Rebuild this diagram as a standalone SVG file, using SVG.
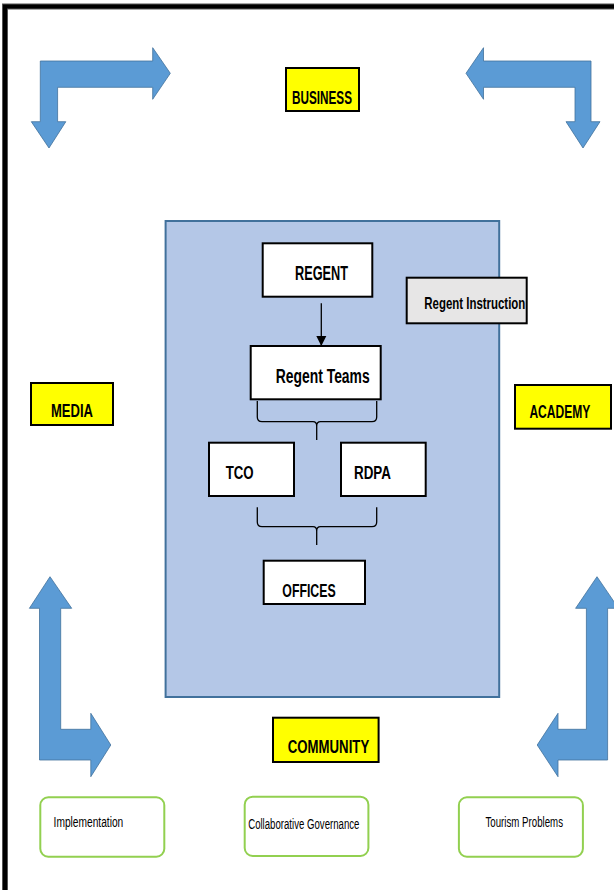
<svg xmlns="http://www.w3.org/2000/svg" width="614" height="890" viewBox="0 0 614 890">
<defs>
<style>
.t{font-family:"Liberation Sans",Arial,sans-serif;font-weight:bold;fill:#000}
.s{font-family:"Liberation Sans",Arial,sans-serif;fill:#000}
.box{fill:#fff;stroke:#000;stroke-width:2}
.yel{fill:#ffff00;stroke:#000;stroke-width:2}
.grn{fill:#fff;stroke:#92d050;stroke-width:2}
.arr{fill:#5b9bd5;stroke:#41719c;stroke-width:0.8}
.br{fill:none;stroke:#000;stroke-width:1.3}
</style>
<marker id="ah" viewBox="0 0 10 10" refX="10" refY="5" markerWidth="10" markerHeight="12" markerUnits="userSpaceOnUse" orient="auto">
<path d="M0,0 L10,5 L0,10 z" fill="#000"/>
</marker>
</defs>
<rect width="614" height="890" fill="#fff"/>
<g id="frame">
<path d="M5,890 V6.5 H614" fill="none" stroke="#555" stroke-width="6"/>
<path d="M5,890 V6.5 H614" fill="none" stroke="#000" stroke-width="4"/>
</g>
<g id="arrows">
<polygon class="arr" points="49,148 65.8,121.7 57.6,121.7 57.6,87.3 152.7,87.3 152.7,99.3 170.3,73.3 152.7,47.7 152.7,61 40.3,61 40.3,121.7 31.3,121.7"/>
<polygon class="arr" points="583,148 600,121.7 591,121.7 591,61 483.5,61 483.5,47.7 466,73.3 483.5,99.3 483.5,87.3 575,87.3 575,121.7 566,121.7"/>
<polygon class="arr" points="50,576.7 71.7,608.3 60.7,608.3 60.7,729.3 90.8,729.3 90.8,713.3 110.8,745 90.8,776.7 90.8,760 39.5,760 39.5,608.3 29.4,608.3"/>
<polygon class="arr" points="597,576.7 618.5,608.3 607.6,608.3 607.6,760 558,760 558,776.7 537.2,745 558,713.3 558,729.3 586.4,729.3 586.4,608.3 575.6,608.3"/>
</g>
<g id="business"><rect class="yel" x="286" y="68" width="73" height="43"/><text class="t" x="292" y="104" font-size="19" textLength="60" lengthAdjust="spacingAndGlyphs">BUSINESS</text></g>
<g id="media"><rect class="yel" x="31" y="383" width="82" height="42"/><text class="t" x="51" y="416.7" font-size="17.5" textLength="42" lengthAdjust="spacingAndGlyphs">MEDIA</text></g>
<g id="academy"><rect class="yel" x="515" y="385" width="96" height="43.7"/><text class="t" x="529.4" y="418.3" font-size="17.5" textLength="61" lengthAdjust="spacingAndGlyphs">ACADEMY</text></g>
<g id="government"><rect x="165.6" y="221" width="333.6" height="476" fill="#b4c7e7" stroke="#41719c" stroke-width="2"/></g>
<g id="regent"><rect class="box" x="262.7" y="243.3" width="109.6" height="53.4"/><text class="t" x="295" y="280" font-size="19.5" textLength="53" lengthAdjust="spacingAndGlyphs">REGENT</text></g>
<g id="regent-instruction"><rect x="406.7" y="277.7" width="120" height="45.6" fill="#e7e6e6" stroke="#000" stroke-width="2"/><text class="t" x="424.3" y="309" font-size="16.5" textLength="101" lengthAdjust="spacingAndGlyphs">Regent Instruction</text></g>
<g id="regent-teams"><rect class="box" x="250.7" y="346" width="130" height="53.3"/><text class="t" x="275.7" y="382.7" font-size="19.5" textLength="94" lengthAdjust="spacingAndGlyphs">Regent Teams</text></g>
<g id="tco"><rect class="box" x="209" y="442.7" width="85" height="53.3"/><text class="t" x="225.7" y="479" font-size="18.5" textLength="28" lengthAdjust="spacingAndGlyphs">TCO</text></g>
<g id="rdpa"><rect class="box" x="341" y="442.7" width="84.7" height="53.3"/><text class="t" x="354" y="479" font-size="18.5" textLength="37" lengthAdjust="spacingAndGlyphs">RDPA</text></g>
<g id="offices"><rect class="box" x="263.7" y="560.7" width="101.3" height="43.3"/><text class="t" x="282.3" y="596.7" font-size="18.5" textLength="53.4" lengthAdjust="spacingAndGlyphs">OFFICES</text></g>
<g id="community"><rect class="yel" x="273" y="717.7" width="105.6" height="44.3"/><text class="t" x="287.8" y="753.3" font-size="18.5" textLength="81.4" lengthAdjust="spacingAndGlyphs">COMMUNITY</text></g>
<g id="implementation"><rect class="grn" x="40.3" y="797.3" width="124" height="59.4" rx="8"/><text class="s" x="53.6" y="826.7" font-size="14" textLength="69.7" lengthAdjust="spacingAndGlyphs">Implementation</text></g>
<g id="collaborative-governance"><rect class="grn" x="244.7" y="796.7" width="123.7" height="59.3" rx="8"/><text class="s" x="248.2" y="828.7" font-size="14" textLength="111.2" lengthAdjust="spacingAndGlyphs">Collaborative Governance</text></g>
<g id="tourism-problems"><rect class="grn" x="458.9" y="797.3" width="124" height="59.4" rx="8"/><text class="s" x="485.5" y="826.7" font-size="14" textLength="77.5" lengthAdjust="spacingAndGlyphs">Tourism Problems</text></g>
<g id="connectors">
<line x1="321.3" y1="303.3" x2="321.3" y2="346" stroke="#000" stroke-width="1.3" marker-end="url(#ah)"/>
<path class="br" d="M257.3,401 L257.3,417 Q257.3,421.7 262,421.7 L313,421.7 Q316.7,421.7 316.7,426 L316.7,440 M316.7,426 Q316.7,421.7 320.5,421.7 L372,421.7 Q376.7,421.7 376.7,417 L376.7,401"/>
<path class="br" d="M257.3,507.3 L257.3,522 Q257.3,526.7 262,526.7 L313,526.7 Q316.7,526.7 316.7,531 L316.7,545 M316.7,531 Q316.7,526.7 320.5,526.7 L372,526.7 Q376.7,526.7 376.7,522 L376.7,507.3"/>
</g>
</svg>
